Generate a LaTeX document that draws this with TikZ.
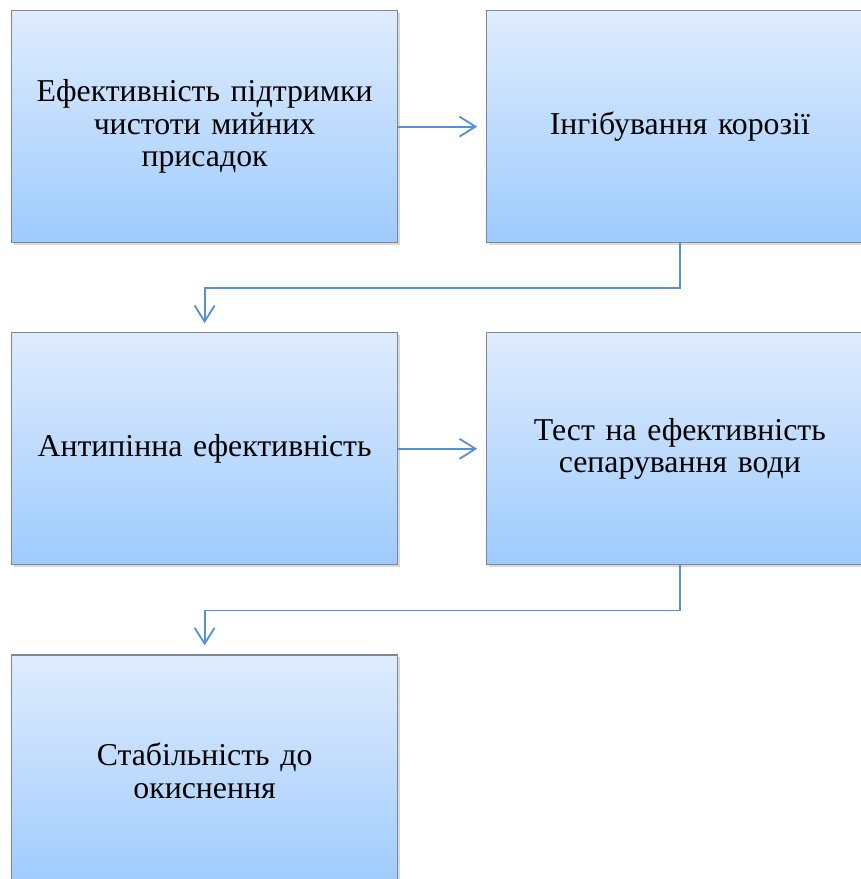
\documentclass[tikz,border=0pt]{standalone}
\usepackage{fontspec}
\setmainfont{Liberation Serif}
\usetikzlibrary{positioning, arrows.meta, shadows}

\definecolor{boxtop}{RGB}{223,236,253}
\definecolor{boxbottom}{RGB}{158,203,253}
\definecolor{boxline}{RGB}{125,135,150}
\definecolor{arrowblue}{RGB}{84,145,214}

\tikzset{
  stage/.style = {rectangle, draw = boxline, line width = 0.6pt,
    top color = boxtop, bottom color = boxbottom,
    minimum width = 193pt, minimum height = 116pt, inner sep = 0pt,
    text width = 185pt, align = center,
    font = \fontsize{15.9}{16.3}\selectfont,
    drop shadow = {shadow xshift = 1.2pt, shadow yshift = -1.2pt, opacity = 0.3}},
  flow/.style = {draw = arrowblue, line width = 0.9pt,
    -{Straight Barb[length = 8pt, width = 10pt]}, shorten > = 4.5pt}
}

\begin{document}
\begin{tikzpicture}[x = 0.5pt, y = -0.5pt]
    \useasboundingbox (0,0) rectangle (861,879);

    \node[stage, anchor = north west] (0) at (11,10) {Ефективність підтримки\\ чистоти мийних\\ присадок};
    \node[stage] (1) [right=44pt of 0] {Інгібування корозії};
    \node[stage] (2) [below=44.5pt of 0] {Антипінна ефективність};
    \node[stage] (3) [right=44pt of 2] {Тест на ефективність\\ сепарування води};
    \node[stage] (4) [below=44.5pt of 2] {Стабільність до\\ окиснення};

    \draw[flow] (0) -- (1);
    \draw[flow] (1.south) -- ++(0,-22.5pt) -| (2.north);
    \draw[flow] (2) -- (3);
    \draw[flow] (3.south) -- ++(0,-22.5pt) -| (4.north);
  \end{tikzpicture}
\end{document}
